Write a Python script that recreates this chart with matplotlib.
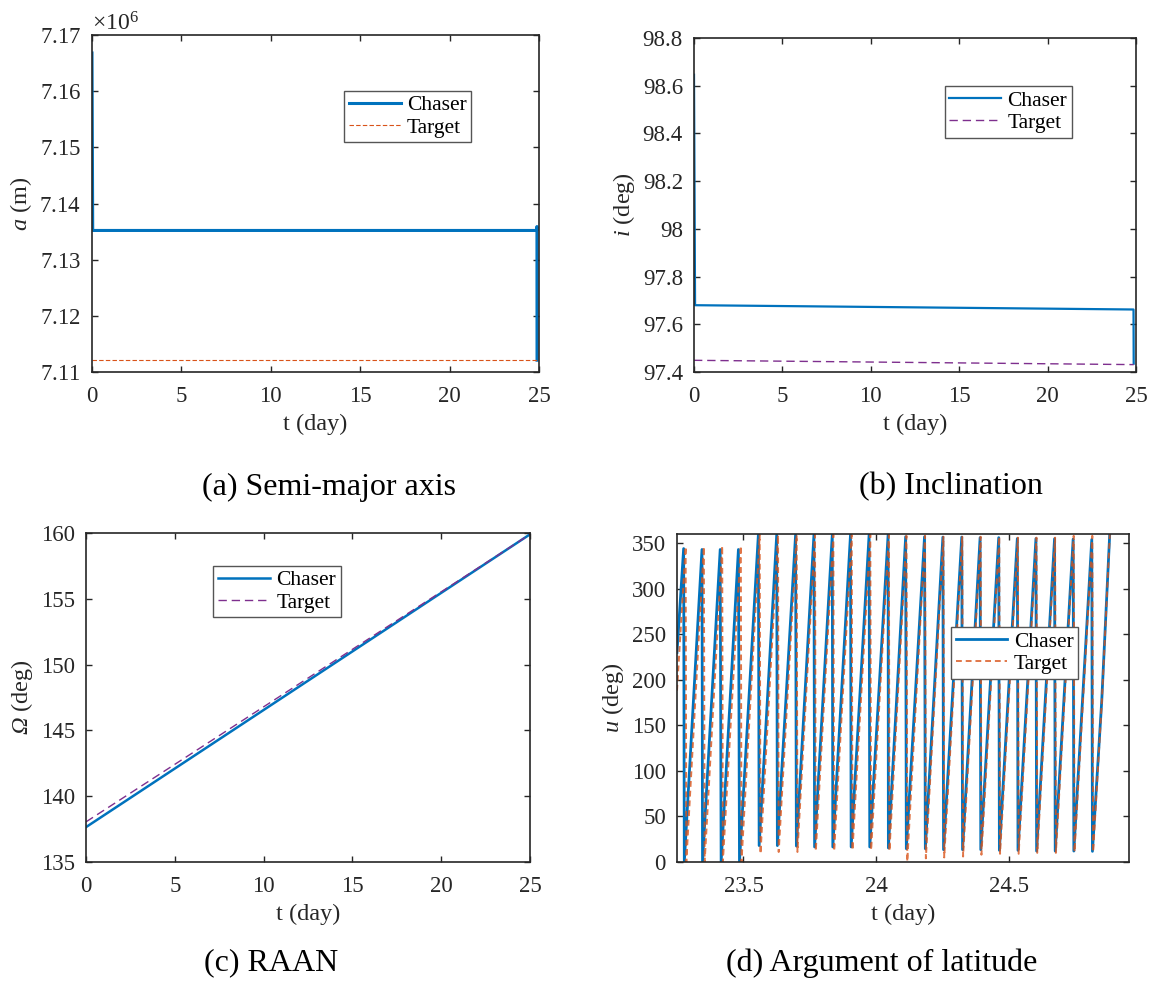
import matplotlib
matplotlib.use("Agg")
import matplotlib.ticker as mticker
from matplotlib import pyplot as plt

# (a) semi-major axis, m
a_chaser_t = [0.0, 0.04, 24.88, 24.885, 24.89]
a_chaser = [7.1668e6, 7.1352e6, 7.1352e6, 7.1359e6, 7.1121e6]
a_target_t = [0.0, 24.89]
a_target = [7.11205e6, 7.11205e6]

# (b) inclination, deg
i_chaser_t = [0.0, 0.06, 24.86, 24.87]
i_chaser = [98.646, 97.680, 97.662, 97.435]
i_target_t = [0.0, 24.87]
i_target = [97.449, 97.431]

# (c) RAAN, deg
raan_t = [0.0, 25.0]
raan_chaser = [137.65, 159.9]
raan_target = [138.05, 159.9]

# (d) argument of latitude, deg (vertices of the sampled sawtooth)
u_chaser_t = [23.250, 23.275, 23.2775, 23.344, 23.346, 23.4125, 23.416, 23.481, 23.485,
              23.556, 23.559, 23.625, 23.6275, 23.696, 23.699, 23.765, 23.7675,
              23.834, 23.836, 23.9025, 23.905, 23.9725, 23.975, 24.044, 24.045,
              24.110, 24.1125, 24.181, 24.184, 24.250, 24.2525, 24.321, 24.324,
              24.390, 24.3925, 24.460, 24.4625, 24.530, 24.5325, 24.600, 24.6025,
              24.670, 24.6725, 24.740, 24.7425, 24.810, 24.8125, 24.8475, 24.8775]
u_chaser = [230, 344, 0, 343, 0, 343, 0, 343, 0,
            359, 18, 359, 18, 359, 17.5, 359, 16.5,
            359, 16.5, 359, 16.5, 359, 16.5, 359, 15.4,
            357, 14.6, 357, 14.6, 356.6, 13.5, 356.6, 13.5,
            356, 13.5, 356, 12.8, 355, 12.8, 355, 12,
            354.8, 12, 354.4, 12, 354, 11.7, 177, 360]
u_target_t = [23.250, 23.2825, 23.285, 23.351, 23.354, 23.420, 23.4225, 23.490, 23.4925,
              23.561, 23.564, 23.630, 23.6325, 23.700, 23.703, 23.769, 23.772,
              23.838, 23.841, 23.907, 23.910, 23.977, 23.980, 24.047, 24.049,
              24.113, 24.116, 24.183, 24.186, 24.252, 24.255, 24.323, 24.326,
              24.392, 24.395, 24.462, 24.465, 24.532, 24.535, 24.602, 24.605,
              24.672, 24.675, 24.742, 24.745, 24.812, 24.815, 24.848, 24.878]
u_target = [188, 346, 0, 346, 0, 347, 0, 347, 0,
            359, 9, 359, 11, 359, 11, 359, 12,
            359, 12, 359, 13, 359, 13, 359, 12,
            358, 0.5, 358, 4, 357, 5, 357, 6,
            357, 8, 357, 9, 356, 9, 356, 10,
            356, 10, 358, 11, 358, 11, 177, 360]

BLUE = "#0072BD"
ORANGE = "#D95319"
PURPLE = "#7E2F8E"
DARK = "#262626"

plt.rcParams["font.family"] = "Liberation Serif"
plt.rcParams["mathtext.fontset"] = "custom"
plt.rcParams["mathtext.rm"] = "Liberation Serif"
plt.rcParams["mathtext.it"] = "Liberation Serif:italic"
# italic capital Greek goes through the sf slot (the it slot forces it upright)
plt.rcParams["mathtext.sf"] = "Liberation Serif:italic"
plt.rcParams["font.size"] = 16

W, H = 1149, 994
fig = plt.figure(figsize=(W / 100, H / 100), dpi=100)


def box(x0, y0, x1, y1):
    # pixel box (top-left origin) -> figure fraction rect
    return [x0 / W, 1 - y1 / H, (x1 - x0) / W, (y1 - y0) / H]


def style(ax):
    for s in ax.spines.values():
        s.set_color(DARK)
        s.set_linewidth(1.2)
    ax.tick_params(direction="in", top=True, right=True, length=4.5, width=1.0,
                   color=DARK, labelsize=16.5, labelcolor=DARK)
    ax.tick_params(axis="x", pad=10)
    ax.tick_params(axis="y", pad=8)
    ax.set_xlabel("t (day)", fontsize=17.5, color=DARK, labelpad=5)


def legend(ax, x, y):
    lg = ax.legend(loc="upper left", bbox_to_anchor=(x, y), borderaxespad=0,
                   fontsize=15.5, handlelength=2.4, handletextpad=0.3,
                   labelspacing=0.1, borderpad=0.22, fancybox=False,
                   framealpha=1, edgecolor="#555555")
    lg.get_frame().set_linewidth(1.0)


g = mticker.FuncFormatter(lambda v, p: "%g" % v)

# (a)
ax = fig.add_axes(box(92, 35, 539, 372))
ax.plot(a_chaser_t, a_chaser, color=BLUE, lw=2.2, label="Chaser")
ax.plot(a_target_t, a_target, color=ORANGE, lw=0.8, dashes=(4, 2), label="Target")
ax.set_xlim(0, 25)
ax.set_ylim(7.11e6, 7.17e6)
ax.set_xticks(range(0, 26, 5))
ax.set_yticks([7.11e6, 7.12e6, 7.13e6, 7.14e6, 7.15e6, 7.16e6, 7.17e6])
fmt = mticker.ScalarFormatter(useMathText=True, useOffset=False)
fmt.set_powerlimits((6, 6))
ax.yaxis.set_major_formatter(fmt)
ax.yaxis.get_offset_text().set_fontsize(17)
ax.yaxis.get_offset_text().set_color(DARK)
ax.set_ylabel("$a$ (m)", fontsize=17.5, color=DARK, labelpad=4)
style(ax)
legend(ax, 0.564, 0.835)

# (b)
ax = fig.add_axes(box(694, 38, 1136, 372))
ax.plot(i_chaser_t, i_chaser, color=BLUE, lw=1.6, label="Chaser")
ax.plot(i_target_t, i_target, color=PURPLE, lw=1.0, dashes=(6, 3.5), label="Target")
ax.set_xlim(0, 25)
ax.set_ylim(97.4, 98.8)
ax.set_xticks(range(0, 26, 5))
ax.set_yticks([97.4, 97.6, 97.8, 98.0, 98.2, 98.4, 98.6, 98.8])
ax.yaxis.set_major_formatter(g)
ax.set_ylabel("$i$ (deg)", fontsize=17.5, color=DARK, labelpad=4)
style(ax)
legend(ax, 0.567, 0.857)

# (c)
ax = fig.add_axes(box(86, 533, 530, 862))
ax.plot(raan_t, raan_chaser, color=BLUE, lw=1.8, label="Chaser")
ax.plot(raan_t, raan_target, color=PURPLE, lw=1.0, dashes=(6, 3.5), label="Target")
ax.set_xlim(0, 25)
ax.set_ylim(135, 160)
ax.set_xticks(range(0, 26, 5))
ax.set_yticks(range(135, 161, 5))
ax.set_ylabel(r"$\mathsf{\Omega}$ (deg)", fontsize=17.5, color=DARK, labelpad=4)
style(ax)
legend(ax, 0.287, 0.901)

# (d)
ax = fig.add_axes(box(677, 534, 1129, 862))
ax.plot(u_chaser_t, u_chaser, color=BLUE, lw=2.0, label="Chaser")
ax.plot(u_target_t, u_target, color=ORANGE, lw=1.4, dashes=(3, 2), alpha=0.8,
        label="Target")
ax.set_xlim(23.25, 24.95)
ax.set_ylim(0, 360)
ax.set_xticks([23.5, 24.0, 24.5])
ax.set_yticks(range(0, 351, 50))
ax.xaxis.set_major_formatter(g)
ax.set_ylabel("$u$ (deg)", fontsize=17.5, color=DARK, labelpad=4)
style(ax)
legend(ax, 0.606, 0.717)

# sub-figure captions
cap = dict(ha="center", va="center", fontsize=23, color="black")
fig.text(329 / W, 1 - 487 / H, "(a) Semi-major axis", **cap)
fig.text(951 / W, 1 - 487 / H, "(b) Inclination", **cap)
fig.text(271 / W, 1 - 963 / H, "(c) RAAN", **cap)
fig.text(882 / W, 1 - 963 / H, "(d) Argument of latitude", **cap)

fig.savefig("out.png", dpi=100, facecolor="white")
